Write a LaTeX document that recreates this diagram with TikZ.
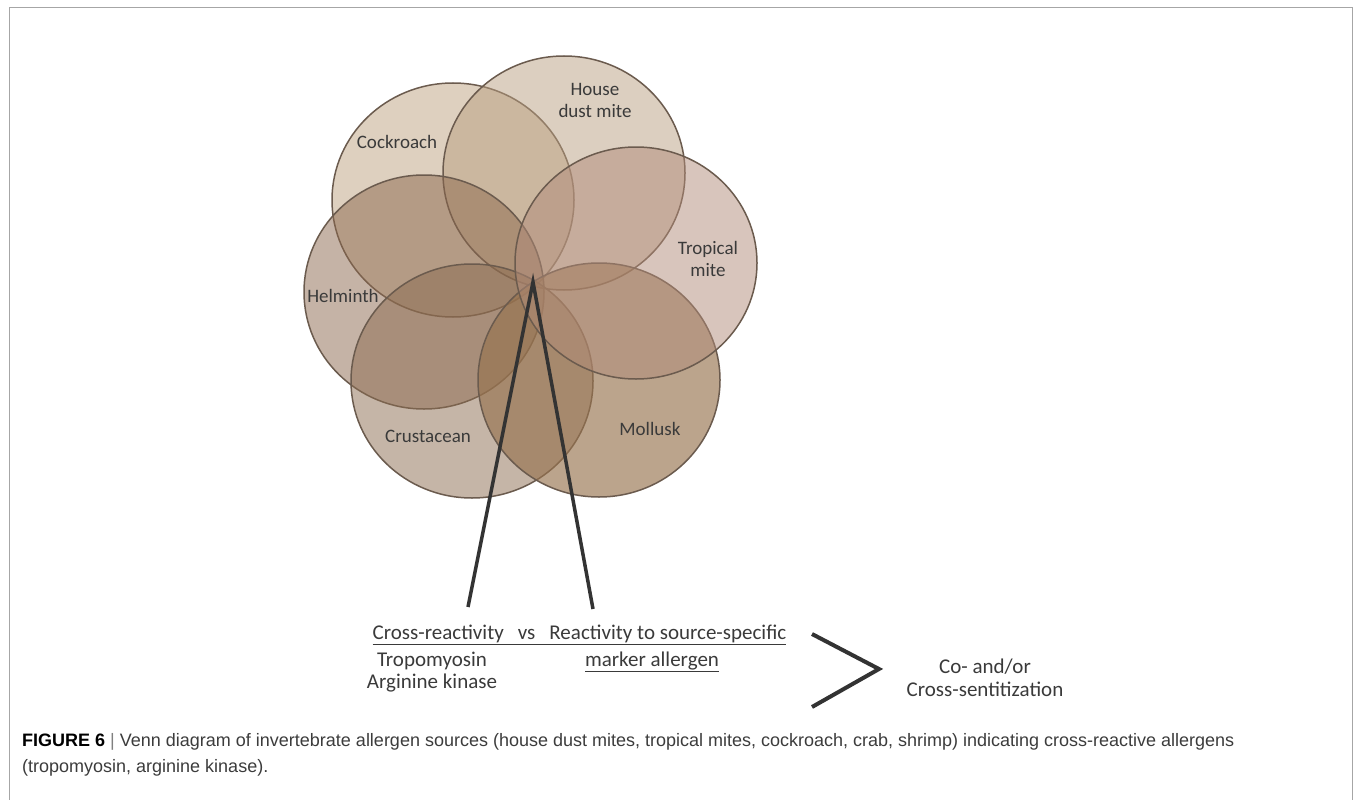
\documentclass[tikz,border=0pt]{standalone}
\usepackage{fontspec}
\setmainfont{Carlito}
\newfontfamily\capfont{Liberation Sans}
\usepackage{tikz}
\usepackage{xcolor}
\usetikzlibrary{positioning, calc}

\definecolor{cockroachc}{HTML}{BDA17F}
\definecolor{dustc}{HTML}{B99F81}
\definecolor{tropicc}{HTML}{B18B79}
\definecolor{helminthc}{HTML}{8B674D}
\definecolor{crustc}{HTML}{8B6B4F}
\definecolor{molluskc}{HTML}{97734E}
\definecolor{rimc}{HTML}{6B5B4E}
\definecolor{labelc}{HTML}{3A3A3A}
\definecolor{capc}{HTML}{3C3C3C}

\begin{document}
\begin{tikzpicture}[x=1pt, y=-1pt,
  venn/.style={draw=rimc, line width=1.5pt, fill opacity=0.5},
  vlabel/.style={text=labelc, font=\fontsize{19}{22}\selectfont, align=center},
  blabel/.style={text=labelc, font=\fontsize{21}{23}\selectfont, anchor=base},
  stick/.style={draw=black!80, line width=3.5pt}]
\useasboundingbox (0,0) rectangle (1355,800);
\draw[gray!70, line width=1pt] (9,800) -- (9,8) -- (1352,8) -- (1352,800);
% Sources
\fill[venn, fill=cockroachc] (453,200) ellipse [x radius=121pt, y radius=117pt];
\fill[venn, fill=dustc] (564,173) ellipse [x radius=121pt, y radius=117pt];
\fill[venn, fill=helminthc] (424,292) ellipse [x radius=120pt, y radius=117pt];
\fill[venn, fill=crustc] (472,381) ellipse [x radius=121pt, y radius=117pt];
\fill[venn, fill=molluskc, fill opacity=0.65] (599,380) ellipse [x radius=121pt, y radius=117pt];
\fill[venn, fill=tropicc] (636,263) ellipse [x radius=121pt, y radius=116pt];
\node[vlabel] (cockroach) at (397,142) {Cockroach};
\node[vlabel] (dust) at (595,100) {House\\dust mite};
\node[vlabel] (tropical) at (708,259) {Tropical\\mite};
\node[vlabel] (helminth) at (343,296) {Helminth};
\node[vlabel] (crustacean) at (428,436) {Crustacean};
\node[vlabel] (mollusk) at (650,429) {Mollusk};
% Reactivity
\coordinate (apex) at (533,282);
\coordinate (crossend) at (468,607);
\coordinate (markend) at (593,609);
\draw[stick, line join=miter] (crossend) -- (apex) -- (markend);
\node[blabel] (versus) at (579.5,639) {\underline{Cross-reactivity\hspace{14pt}vs\hspace{14pt}Reactivity to source-specific}};
\node[blabel] (tropo) at (432,666) {Tropomyosin};
\node[blabel] (argk) at (432,688) {Arginine kinase};
\node[blabel] (marker) at (652,666) {\underline{marker allergen}};
% Sensitization
\coordinate (brtop) at (812,634);
\coordinate (brtip) at (879,669);
\coordinate (brbot) at (812,707);
\draw[stick, line width=4pt] (brtop) -- (brtip) -- (brbot);
\node[text=labelc, font=\fontsize{21}{23}\selectfont, align=center] (sens) at (985,678) {Co- and/or\\Cross-sentitization};
% Caption
\node[anchor=base west, text=capc, font=\capfont\fontsize{18}{20}\selectfont, inner sep=0pt] (cap1) at (22,746)
  {\textbf{\color{black}FIGURE 6}\ \textcolor{gray}{|}\ Venn diagram of invertebrate allergen sources (house dust mites, tropical mites, cockroach, crab, shrimp) indicating cross-reactive allergens};
\node[anchor=base west, text=capc, font=\capfont\fontsize{18}{20}\selectfont, inner sep=0pt] (cap2) at (22,772)
  {(tropomyosin, arginine kinase).};
\end{tikzpicture}
\end{document}
